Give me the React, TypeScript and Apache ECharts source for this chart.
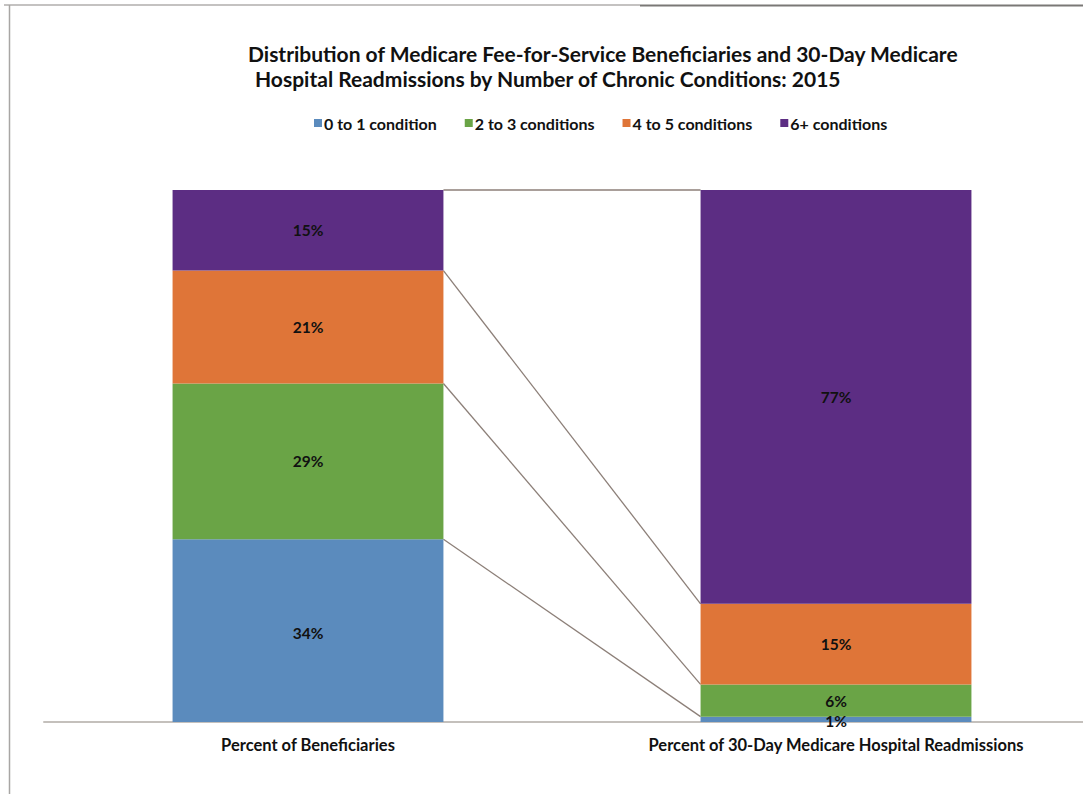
import React, { useEffect, useRef } from "react";
import * as echarts from "echarts";

const categories = ["Percent of Beneficiaries", "Percent of 30-Day Medicare Hospital Readmissions"];
const seriesNames = ["0 to 1 condition", "2 to 3 conditions", "4 to 5 conditions", "6+ conditions"];
const zeroToOne = [34, 1];
const twoToThree = [29, 6];
const fourToFive = [21, 15];
const sixPlus = [15, 77];
const colors = ["#5b8bbd", "#6aa446", "#df7538", "#5c2d83"];
const titleLine1 = "Distribution of Medicare Fee-for-Service Beneficiaries and 30-Day Medicare";
const titleLine2 = "Hospital Readmissions by Number of Chronic Conditions: 2015";

const FONT = "Lato, 'Open Sans', sans-serif";

export default function App() {
  const ref = useRef<HTMLDivElement>(null);
  useEffect(() => {
    if (!ref.current) return;
    const chart = echarts.init(ref.current, null, { renderer: "svg" });
    const all = [zeroToOne, twoToThree, fourToFive, sixPlus];
    const totals = categories.map((_, i) => all.reduce((s, a) => s + a[i], 0));
    const maxTotal = Math.max(...totals);
    const boundaries: number[][] = [];
    for (let k = 1; k <= all.length; k++) {
      const cumL = all.slice(0, k).reduce((s, a) => s + a[0], 0);
      const cumR = all.slice(0, k).reduce((s, a) => s + a[1], 0);
      boundaries.push([0, cumL, cumR]);
    }
    const barRatio = 0.513;
    const barSeries = all.map((arr, idx) => ({
      name: seriesNames[idx],
      type: "bar",
      stack: "total",
      barWidth: (barRatio * 100).toFixed(1) + "%",
      data: arr,
      itemStyle: { color: colors[idx] },
      label: {
        show: true,
        position: "inside",
        formatter: (p: any) => p.value + "%",
        color: "#111",
        fontFamily: FONT,
        fontWeight: "bold",
        fontSize: 15.5,
        offset: idx === 0 ? [0, 2] : [0, 0],
      },
    }));
    const option: any = {
      animation: false,
      backgroundColor: "#ffffff",
      title: [
        {
          text: titleLine1,
          left: 243,
          top: 38,
          textStyle: { fontFamily: FONT, fontWeight: "bold", fontSize: 21, color: "#111" },
        },
        {
          text: titleLine2,
          left: 250,
          top: 63,
          textStyle: { fontFamily: FONT, fontWeight: "bold", fontSize: 21, color: "#111" },
        },
      ],
      legend: {
        data: seriesNames,
        left: 309,
        top: 110,
        icon: "rect",
        itemWidth: 8,
        itemHeight: 8,
        itemGap: 28,
        textStyle: { fontFamily: FONT, fontWeight: "bold", fontSize: 16, color: "#111", padding: [0, 0, 0, -3] },
      },
      grid: { left: 44, top: 190, width: 1056, height: 532, containLabel: false, outerBoundsMode: "none" },
      xAxis: {
        type: "category",
        data: categories,
        axisLine: { show: true, lineStyle: { color: "#c4c0bc", width: 2 } },
        axisTick: { show: false },
        axisLabel: {
          color: "#111",
          fontFamily: FONT,
          fontWeight: "bold",
          fontSize: 16.5,
          margin: 14,
        },
      },
      yAxis: {
        type: "value",
        min: 0,
        max: maxTotal,
        show: false,
        splitLine: { show: false },
      },
      series: [
        ...barSeries,
        {
          name: "connectors",
          type: "custom",
          silent: true,
          z: 1,
          encode: { x: 0, y: [1, 2] },
          data: boundaries,
          renderItem: (params: any, api: any) => {
            const band = api.size([1, 0])[0];
            const half = (band * barRatio) / 2;
            const pL = api.coord([0, api.value(1)]);
            const pR = api.coord([1, api.value(2)]);
            return {
              type: "line",
              shape: { x1: pL[0] + half, y1: pL[1], x2: pR[0] - half, y2: pR[1] },
              style: { stroke: "#8c7f78", lineWidth: 1.3 },
            };
          },
        },
      ],
      graphic: [
        { type: "line", shape: { x1: 4, y1: 5, x2: 640, y2: 5 }, style: { stroke: "#b0aeac", lineWidth: 1.5 } },
        { type: "line", shape: { x1: 640, y1: 5.5, x2: 1083, y2: 5.5 }, style: { stroke: "#7a7876", lineWidth: 2 } },
        { type: "line", shape: { x1: 9.5, y1: 5, x2: 9.5, y2: 794 }, style: { stroke: "#a8a6a4", lineWidth: 1.5 } },
      ],
    };
    chart.setOption(option);
    return () => chart.dispose();
  }, []);
  return (
    <div
      ref={ref}
      style={{ position: "fixed", left: 0, top: 0, width: 1083, height: 794, background: "#fff" }}
    />
  );
}
